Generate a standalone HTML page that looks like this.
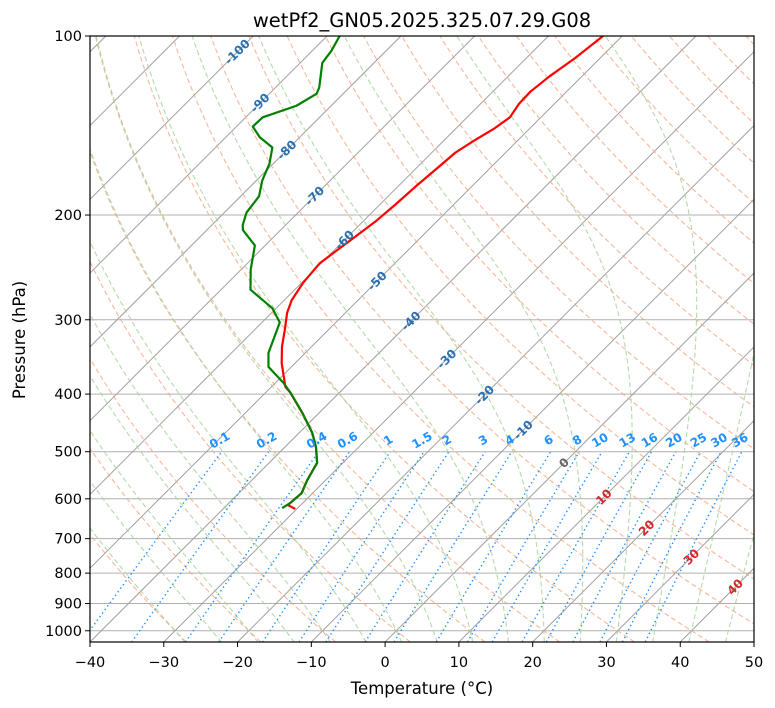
<!DOCTYPE html>
<html><head><meta charset="utf-8"><style>
body{margin:0;background:#fff;}
svg{display:block;font-family:"DejaVu Sans","Liberation Sans",sans-serif;}
</style></head><body>
<svg id="chart" width="775" height="708" viewBox="0 0 775 708">
<defs><clipPath id="pc"><rect x="90" y="36" width="664" height="606"/></clipPath></defs>
<rect x="0" y="0" width="775" height="708" fill="#fff"/>
<g id="bg" clip-path="url(#pc)"></g>
<g id="prof" clip-path="url(#pc)"></g>
<g id="lbl"></g>
<rect x="90" y="36" width="664" height="606" fill="none" stroke="#000" stroke-width="1.2"/>
<g id="axes"></g>
<text x="422" y="27" text-anchor="middle" font-size="19.5">wetPf2_GN05.2025.325.07.29.G08</text>
<text x="422" y="694" text-anchor="middle" font-size="16.5">Temperature (°C)</text>
<text x="25" y="340" text-anchor="middle" font-size="16.5" transform="rotate(-90 25 340)">Pressure (hPa)</text>
</svg>
<script>
// data
const tempP = [624,615,610,587,558,522,491,465,430,398,389,355,333,312,292,278,260,241,227,218,205,192,179,168,157,150,143,137,130,124,117,109,100];
const tempT = [-30.2,-31.7,-31.7,-31.5,-32.5,-33.5,-35.8,-38.2,-42.3,-46.6,-48.1,-51.8,-54.0,-55.9,-57.9,-59.0,-59.8,-60.2,-59.5,-59.0,-58.3,-57.9,-57.6,-57.2,-56.8,-55.9,-54.8,-54.2,-54.8,-54.9,-54.4,-53.4,-52.6];
const dewP = [622,610,587,558,522,491,465,430,398,383,360,341,303,287,267,247,225,212,208,198,186,175,164,154,148,142,137,131,125,122,111,106,100];
const dewT = [-32.1,-31.7,-31.5,-32.5,-33.5,-35.8,-38.2,-42.3,-46.6,-48.9,-53.1,-55.0,-57.6,-60.5,-66.0,-68.7,-71.4,-75.1,-75.8,-77.0,-77.5,-79.2,-80.5,-82.3,-85.4,-87.8,-87.7,-84.7,-83.6,-84.1,-87.0,-87.4,-88.3];
const xTicks = [-40,-30,-20,-10,0,10,20,30,40,50];
const pTicks = [100,200,300,400,500,600,700,800,900,1000];
const mixRatios = [0.1,0.2,0.4,0.6,1,1.5,2,3,4,6,8,10,13,16,20,25,30,36];
const isoLabelT = [-100,-90,-80,-70,-60,-50,-40,-30,-20,-10,0,10,20,30,40];
const dryT0 = [-30,-20,-10,0,10,20,30,40,50,60,70,80,90,100,110,120,130,140,150,160,170,180,190];
const moistT0 = [-30,-25,-20,-15,-10,-5,0,5,10,15,20,25,30,35,40,45];

// layout
const isoLabelY = [52,103,150,196,240,281,321,359,395,430,463,497,528,557,587];
const NS='http://www.w3.org/2000/svg';
const Y0=36, YB=642, LN=258.3, XL=90, PX=7.378;
function yP(p){return Y0+LN*Math.log(p/100);}
function xTP(T,p){return XL+(T+40)*PX+(YB-yP(p));}
function pY(y){return 100*Math.exp((y-Y0)/LN);}
const PB=pY(YB);
function mk(tag,attrs,parent){const e=document.createElementNS(NS,tag);for(const k in attrs)e.setAttribute(k,attrs[k]);parent.appendChild(e);return e;}
const bg=document.getElementById('bg'),prof=document.getElementById('prof'),lbl=document.getElementById('lbl'),axes=document.getElementById('axes');
function pathFrom(pts){return pts.map((q,i)=>(i?'L':'M')+q[0].toFixed(2)+','+q[1].toFixed(2)).join('');}

pTicks.forEach(p=>{
  const l=mk('line',{x1:90,x2:754,y1:yP(p),y2:yP(p),stroke:'#b0b0b0','stroke-width':1},bg);
  
  
});
for(let T=-160;T<=60;T+=10){
  const l=mk('line',{x1:xTP(T,PB),y1:YB,x2:xTP(T,100),y2:Y0,stroke:'#a0a0a0','stroke-width':1},bg);
  
  
}
dryT0.forEach(t0=>{
  const th=t0+273.15,pts=[];
  for(let p=PB;p>=99;p-=5){pts.push([xTP(th*Math.pow(p/1000,0.2857)-273.15,p),yP(p)]);}
  const e=mk('path',{d:pathFrom(pts),fill:'none',stroke:'#f4a582','stroke-opacity':0.8,'stroke-width':1.1,'stroke-dasharray':'5,3'},bg);
  
  
});
function es(Tc){return 6.112*Math.exp(17.67*Tc/(Tc+243.5));}
function dTdlnp(T,p){const Tc=T-273.15,e=es(Tc),rs=0.622*e/(p-e);const Rd=287.04,Cp=1005.7,Lv=2.501e6;
  return (Rd*T+Lv*rs)/(Cp+Lv*Lv*rs*0.622/(Rd*T*T));}
moistT0.forEach(t0=>{
  const up=[],dn=[];let T=t0+273.15,lp=Math.log(1000),h=-0.005;
  up.push([xTP(T-273.15,1000),yP(1000)]);
  while(lp>Math.log(99)){const p=Math.exp(lp);const k1=dTdlnp(T,p),k2=dTdlnp(T+h*k1/2,Math.exp(lp+h/2)),k3=dTdlnp(T+h*k2/2,Math.exp(lp+h/2)),k4=dTdlnp(T+h*k3,Math.exp(lp+h));T+=h*(k1+2*k2+2*k3+k4)/6;lp+=h;up.push([xTP(T-273.15,Math.exp(lp)),yP(Math.exp(lp))]);}
  T=t0+273.15;lp=Math.log(1000);h=0.005;
  while(lp<Math.log(PB+1)){const k=dTdlnp(T,Math.exp(lp));T+=h*k;lp+=h;dn.push([xTP(T-273.15,Math.exp(lp)),yP(Math.exp(lp))]);}
  const pts=dn.reverse().concat(up);
  const e=mk('path',{d:pathFrom(pts),fill:'none',stroke:'#a6d39b','stroke-opacity':0.85,'stroke-width':1.1,'stroke-dasharray':'5,3'},bg);
  
  
});
function tdW(w,p){const e=w*p/(622+w);const l=Math.log(e/6.112);return 243.5*l/(17.67-l);}
mixRatios.forEach(w=>{
  const pts=[];for(let p=PB;p>=500;p-=10)pts.push([xTP(tdW(w,p),p),yP(p)]);pts.push([xTP(tdW(w,500),500),yP(500)]);
  const e=mk('path',{d:pathFrom(pts),fill:'none',stroke:'#1e90ff','stroke-width':1.4,'stroke-dasharray':'1.4,3'},bg);
  
  
  const x=xTP(tdW(w,500),500),y=yP(500)-8;
  const t=mk('text',{x:x,y:y,'text-anchor':'middle','font-size':12,'font-weight':'bold',fill:'#1e90ff',transform:`rotate(-30 ${x} ${y})`},lbl);
  t.textContent=String(w);
  
  
});
isoLabelT.forEach((T,i)=>{
  const y=isoLabelY[i],x=xTP(T,pY(y));
  const col=T<0?'#2a6fb0':(T===0?'#666':'#d62728');
  const t=mk('text',{x:x,y:y+4,'text-anchor':'middle','font-size':12,'font-weight':'bold',fill:col,transform:`rotate(-45 ${x} ${y})`},lbl);
  t.textContent=String(T);
  
  
});
const tp=mk('path',{d:pathFrom(tempP.map((p,i)=>[xTP(tempT[i],p),yP(p)])),fill:'none',stroke:'#ff0000','stroke-width':2.2,'stroke-linejoin':'round'},prof);


const dp=mk('path',{d:pathFrom(dewP.map((p,i)=>[xTP(dewT[i],p),yP(p)])),fill:'none',stroke:'#008000','stroke-width':2.2,'stroke-linejoin':'round'},prof);


xTicks.forEach(T=>{
  const x=XL+(T+40)*PX;
  const l=mk('line',{x1:x,x2:x,y1:642,y2:647,stroke:'#000','stroke-width':1},axes);
  
  
  const t=mk('text',{x:x,y:667,'text-anchor':'middle','font-size':14.5},axes);
  t.textContent=T<0?'\u2212'+Math.abs(T):String(T);
  
  
});
pTicks.forEach(p=>{
  const y=yP(p);
  const l=mk('line',{x1:85,x2:90,y1:y,y2:y,stroke:'#000','stroke-width':1},axes);
  
  
  const t=mk('text',{x:82,y:y+5,'text-anchor':'end','font-size':14.5},axes);
  t.textContent=String(p);
  
  
});
</script>
</body></html>
